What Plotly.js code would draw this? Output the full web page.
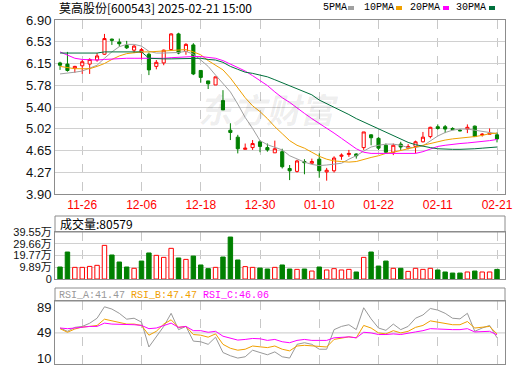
<!DOCTYPE html>
<html><head><meta charset="utf-8">
<script src="https://cdn.plot.ly/plotly-3.0.1.min.js"></script>
<style>html,body{margin:0;padding:0;background:#fff;}#chart{width:520px;height:365px;}</style>
</head><body><div id="chart"></div>
<script>
// ---- data ----
const dates = ["2024-11-21","2024-11-22","2024-11-25","2024-11-26","2024-11-27","2024-11-28","2024-11-29","2024-12-02","2024-12-03","2024-12-04","2024-12-05","2024-12-06","2024-12-09","2024-12-10","2024-12-11","2024-12-12","2024-12-13","2024-12-16","2024-12-17","2024-12-18","2024-12-19","2024-12-20","2024-12-23","2024-12-24","2024-12-25","2024-12-26","2024-12-27","2024-12-30","2024-12-31","2025-01-02","2025-01-03","2025-01-06","2025-01-07","2025-01-08","2025-01-09","2025-01-10","2025-01-13","2025-01-14","2025-01-15","2025-01-16","2025-01-17","2025-01-20","2025-01-21","2025-01-22","2025-01-23","2025-01-24","2025-01-27","2025-02-05","2025-02-06","2025-02-07","2025-02-10","2025-02-11","2025-02-12","2025-02-13","2025-02-14","2025-02-17","2025-02-18","2025-02-19","2025-02-20","2025-02-21"];
const openP  = [6.16,6.14,6.07,6.11,6.14,6.21,6.31,6.57,6.52,6.46,6.38,6.34,6.31,6.10,6.16,6.39,6.66,6.36,6.47,6.03,5.85,5.78,5.51,5.00,4.88,4.67,4.70,4.80,4.70,4.61,4.63,4.34,4.29,4.46,4.43,4.50,4.28,4.30,4.55,4.58,4.59,4.70,4.92,4.86,4.74,4.62,4.76,4.69,4.72,4.80,4.89,5.06,5.06,5.03,5.00,5.02,5.07,4.92,4.93,4.92];
const highP  = [6.18,6.35,6.11,6.21,6.24,6.33,6.66,6.58,6.58,6.54,6.47,6.42,6.34,6.21,6.39,6.67,6.68,6.50,6.50,6.03,5.85,5.92,5.69,5.12,4.92,4.77,4.83,4.83,4.77,4.82,4.68,4.40,4.49,4.50,4.51,4.60,4.35,4.55,4.60,4.66,4.60,4.97,4.93,4.88,4.77,4.77,4.80,4.76,4.82,4.97,5.06,5.10,5.09,5.05,5.02,5.10,5.08,4.95,5.03,4.96];
const lowP   = [6.04,6.01,5.99,5.97,5.97,6.18,6.30,6.47,6.44,6.40,6.33,6.22,5.95,6.05,6.12,6.38,6.31,6.30,5.95,5.82,5.71,5.78,5.35,4.83,4.60,4.67,4.66,4.62,4.63,4.61,4.34,4.14,4.27,4.24,4.42,4.18,4.13,4.27,4.49,4.54,4.51,4.66,4.74,4.66,4.60,4.57,4.66,4.67,4.60,4.79,4.86,5.01,4.95,5.00,4.98,4.95,4.89,4.89,4.93,4.79];
const closeP = [6.12,6.03,6.10,6.18,6.22,6.28,6.58,6.55,6.49,6.42,6.45,6.39,6.04,6.17,6.38,6.66,6.33,6.48,5.97,5.91,5.80,5.92,5.35,4.96,4.68,4.69,4.77,4.72,4.66,4.68,4.37,4.30,4.47,4.44,4.46,4.30,4.31,4.52,4.57,4.60,4.56,4.97,4.87,4.69,4.62,4.74,4.71,4.72,4.80,4.88,5.05,5.03,5.02,5.01,4.99,5.05,4.89,4.93,4.95,4.85];
const ma5  = [5.97,5.98,6.00,6.02,6.07,6.12,6.24,6.35,6.44,6.48,6.48,6.45,6.36,6.33,6.33,6.33,6.34,6.36,6.31,6.21,6.10,5.95,5.80,5.66,5.45,5.22,5.03,4.82,4.75,4.70,4.66,4.56,4.50,4.45,4.41,4.39,4.40,4.41,4.43,4.50,4.56,4.64,4.71,4.74,4.76,4.76,4.74,4.70,4.70,4.73,4.81,4.90,4.96,5.00,5.02,5.02,5.00,4.98,4.96,4.94];
const ma10 = [6.10,6.08,6.06,6.06,6.06,6.10,6.15,6.22,6.28,6.32,6.34,6.35,6.35,6.36,6.36,6.37,6.38,6.39,6.35,6.30,6.20,6.12,6.04,5.90,5.72,5.56,5.42,5.32,5.20,5.06,4.94,4.82,4.74,4.69,4.62,4.55,4.50,4.47,4.46,4.45,4.46,4.50,4.53,4.56,4.60,4.62,4.65,4.69,4.72,4.75,4.78,4.80,4.83,4.85,4.86,4.88,4.89,4.91,4.94,4.95];
const ma20 = [6.35,6.29,6.24,6.22,6.21,6.21,6.22,6.23,6.24,6.24,6.24,6.24,6.23,6.23,6.24,6.25,6.26,6.27,6.27,6.27,6.26,6.24,6.20,6.14,6.08,6.02,5.94,5.85,5.77,5.66,5.56,5.48,5.38,5.29,5.20,5.12,5.03,4.95,4.86,4.77,4.68,4.62,4.60,4.60,4.60,4.60,4.60,4.60,4.60,4.63,4.68,4.72,4.74,4.76,4.77,4.78,4.79,4.80,4.82,4.84];
const ma30 = [6.33,6.33,6.33,6.33,6.33,6.33,6.35,6.35,6.35,6.35,6.35,6.35,6.24,6.23,6.23,6.23,6.23,6.24,6.24,6.24,6.22,6.21,6.17,6.10,6.05,6.00,5.98,5.95,5.92,5.87,5.82,5.77,5.72,5.67,5.61,5.52,5.46,5.40,5.34,5.27,5.20,5.14,5.08,5.02,4.96,4.90,4.84,4.79,4.75,4.72,4.70,4.68,4.67,4.67,4.67,4.67,4.68,4.69,4.70,4.71];
const volume = [101000,227000,98000,98000,106000,115000,283000,202000,143000,101000,90000,151000,219000,199000,182000,258000,177000,165000,193000,118000,87000,98000,185000,353000,160000,104000,98000,92000,84000,98000,118000,84000,81000,84000,67000,101000,76000,87000,76000,81000,59000,182000,227000,109000,151000,90000,90000,64000,90000,81000,90000,76000,59000,50000,50000,59000,67000,59000,59000,80579];
const rsiA = [56.6,51.5,57.6,59.1,64.0,71.8,89.5,86.0,79.4,70.3,71.8,65.7,27.2,43.9,59.1,79.4,54.1,59.1,36.3,35.3,31.3,42.4,18.6,13.6,10.0,12.0,22.2,18.6,15.1,19.6,12.0,10.0,31.3,33.8,31.3,23.7,23.7,54.1,59.1,61.7,54.1,88.0,70.8,56.6,53.0,62.7,54.1,59.1,71.8,76.8,86.9,84.4,79.4,71.8,70.8,79.4,51.5,56.6,60.6,41.47];
const rsiB = [55.6,50.0,55.1,58.1,59.1,60.6,70.3,67.7,65.7,62.7,62.7,60.6,45.5,51.5,62.7,69.3,57.6,59.1,46.5,45.5,42.4,47.5,31.3,25.2,22.2,23.7,28.7,27.7,26.2,28.7,23.7,21.2,28.7,29.8,28.7,27.2,27.2,38.9,41.4,42.9,41.4,60.6,56.6,49.0,47.5,52.5,49.0,51.5,57.6,60.6,67.7,65.7,62.7,61.7,61.7,66.7,56.6,57.6,59.1,47.47];
const rsiC = [56.6,55.6,56.6,58.1,59.1,59.1,64.2,62.7,62.7,61.7,61.7,60.6,55.6,56.6,60.6,64.2,57.6,59.1,52.5,52.5,50.0,51.5,43.9,40.4,37.9,38.9,40.4,39.9,37.4,38.9,35.3,33.8,37.4,38.9,37.4,37.4,37.4,41.4,42.4,42.9,41.4,50.0,49.0,46.5,46.5,47.5,46.5,48.0,50.5,52.5,55.6,55.1,54.1,54.1,54.1,55.6,50.5,51.5,51.5,46.06];
const tickDates = ["2024-11-26","2024-12-06","2024-12-18","2024-12-30","2025-01-10","2025-01-22","2025-02-11","2025-02-21"];
const priceTicks = [3.90,4.275,4.65,5.025,5.40,5.775,6.15,6.525,6.90];
const priceTickText = ["3.90","4.27","4.65","5.02","5.40","5.78","6.15","6.53","6.90"];
const volTicks = [0,98875,197750,296625,395500];
const volTickText = ["0","9.89万","19.77万","29.66万","39.55万"];
const rsiTicks = [10,49,89];

// ---- styles ----
const RED = '#ff0000', GREEN = '#008000';
const C5 = '#a0a0a0', C10 = '#f0a000', C20 = '#ff00ff', C30 = '#00703c';
const FRAME = '#8c8c8c';

const volColors = closeP.map((c,i)=> i===0 ? (c>=openP[i]) : (c>=closeP[i-1]));

const traces = [
  {type:'candlestick', x:dates, open:openP, high:highP, low:lowP, close:closeP, xaxis:'x', yaxis:'y',
   increasing:{line:{color:RED,width:1}, fillcolor:'#ffffff'},
   decreasing:{line:{color:GREEN,width:1}, fillcolor:GREEN}, whiskerwidth:0, hoverinfo:'skip'},
  {type:'scatter', mode:'lines', x:dates, y:ma5, line:{color:C5,width:1}, xaxis:'x', yaxis:'y'},
  {type:'scatter', mode:'lines', x:dates, y:ma10, line:{color:C10,width:1}, xaxis:'x', yaxis:'y'},
  {type:'scatter', mode:'lines', x:dates, y:ma20, line:{color:C20,width:1}, xaxis:'x', yaxis:'y'},
  {type:'scatter', mode:'lines', x:dates, y:ma30, line:{color:C30,width:1}, xaxis:'x', yaxis:'y'},
  {type:'bar', x:dates, y:volume, xaxis:'x2', yaxis:'y2',
   marker:{color:volColors.map(u=>u?'#ffffff':GREEN), line:{color:volColors.map(u=>u?RED:GREEN), width:1}}},
  {type:'scatter', mode:'lines', x:dates, y:rsiA, line:{color:'#999999',width:1}, xaxis:'x3', yaxis:'y3'},
  {type:'scatter', mode:'lines', x:dates, y:rsiB, line:{color:C10,width:1}, xaxis:'x3', yaxis:'y3'},
  {type:'scatter', mode:'lines', x:dates, y:rsiC, line:{color:C20,width:1}, xaxis:'x3', yaxis:'y3'}
];

const H = 344; // plot height in px (t=20,b=1)
const py = y => (364 - y) / H;   // pixel y -> paper
const px = x => (x - 55) / 450;  // pixel x -> paper

const xBase = {type:'category', range:[-0.68, 60.08], tickvals:tickDates, showgrid:true, gridcolor:'#c8c8c8', griddash:'dash', gridwidth:1,
  showline:true, mirror:true, linecolor:FRAME, linewidth:1, ticks:'', zeroline:false, fixedrange:true};
const yBase = {showline:true, mirror:true, linecolor:FRAME, linewidth:1, ticks:'', zeroline:false, gridcolor:'#d0d0d0', gridwidth:1,
  ticklabeloverflow:'allow', tickfont:{family:'Liberation Sans, Arial, sans-serif', size:13, color:'#111'}, fixedrange:true};

const layout = {
  width:520, height:365, margin:{l:55, r:15, t:20, b:1},
  paper_bgcolor:'#ffffff', plot_bgcolor:'#ffffff', showlegend:false,
  boxgap:0.4, bargap:0.4, hovermode:false,
  font:{family:'Liberation Sans, Arial, sans-serif', size:12, color:'#000'},
  xaxis: Object.assign({}, xBase, {anchor:'y', ticktext:tickDates.map(d=>d.slice(5)), tickfont:{family:'Liberation Sans, Arial, sans-serif', size:12, color:RED}, rangeslider:{visible:false}}),
  yaxis: Object.assign({}, yBase, {domain:[py(194), 1], range:[3.90, 6.90], tickvals:priceTicks, ticktext:priceTickText}),
  xaxis2: Object.assign({}, xBase, {anchor:'y2', matches:'x', showticklabels:false}),
  yaxis2: Object.assign({}, yBase, {domain:[py(279), py(232)], range:[0, 395500], tickvals:volTicks, ticktext:volTickText, tickfont:{family:'Liberation Sans, Arial, "Noto Sans CJK SC", sans-serif', size:11, color:'#111'}}),
  xaxis3: Object.assign({}, xBase, {anchor:'y3', matches:'x', showticklabels:false}),
  yaxis3: Object.assign({}, yBase, {domain:[0, py(301)], range:[0.8, 98.5], tickvals:rsiTicks, showgrid:false}),
  shapes:[
    {type:'rect', xref:'paper', yref:'paper', x0:0, x1:1, y0:py(232), y1:py(216), line:{color:FRAME, width:1}},
    {type:'rect', xref:'paper', yref:'paper', x0:0, x1:1, y0:py(301), y1:py(288), line:{color:FRAME, width:1}},
    {type:'line', xref:'paper', yref:'y3', x0:0, x1:1, y0:49, y1:49, line:{color:'#c8c8c8', width:1}, layer:'below'}
  ],
  annotations:[
    {xref:'paper', yref:'paper', x:px(268), y:py(108), xanchor:'center', yanchor:'middle', showarrow:false,
     text:'<b><i>东方财富</i></b>', font:{family:'"Noto Sans CJK SC", sans-serif', size:34, color:'rgba(0,0,0,0.07)'}},
    {xref:'paper', yref:'paper', x:px(57), y:py(8), xanchor:'left', yanchor:'middle', showarrow:false,
     text:'莫高股份[600543] 2025-02-21 15:00', font:{family:'"Noto Sans CJK SC", sans-serif', size:12, color:'#000'}},
    {xref:'paper', yref:'paper', x:px(58), y:py(224), xanchor:'left', yanchor:'middle', showarrow:false,
     text:'成交量:' + volume[volume.length-1], font:{family:'"Noto Sans CJK SC", sans-serif', size:12, color:'#000'}},
    {xref:'paper', yref:'paper', x:px(57), y:py(295), xanchor:'left', yanchor:'middle', showarrow:false,
     text:'<span style="color:#999999">RSI_A:' + rsiA[rsiA.length-1].toFixed(2) + '</span> <span style="color:'+C10+'">RSI_B:' + rsiB[rsiB.length-1].toFixed(2) + '</span> <span style="color:'+C20+'">RSI_C:' + rsiC[rsiC.length-1].toFixed(2) + '</span>',
     font:{family:'"Liberation Mono", monospace', size:10, color:'#999'}},
  ]
};

// legend labels top-right
const legendItems = [['5PMA', C5, 321, 348], ['10PMA', C10, 362, 396], ['20PMA', C20, 408, 443], ['30PMA', C30, 454, 489]];
legendItems.forEach(([t, c, tx, sx]) => {
  layout.annotations.push({xref:'paper', yref:'paper', x:px(tx), y:py(8), xanchor:'left', yanchor:'middle', showarrow:false,
    text:t, font:{family:'"Liberation Mono", monospace', size:10, color:'#000'}});
  layout.shapes.push({type:'rect', xref:'paper', yref:'paper', x0:px(sx), x1:px(sx+6), y0:py(10), y1:py(6), fillcolor:c, line:{width:0}});
});

Plotly.newPlot('chart', traces, layout, {staticPlot:true, displayModeBar:false});
</script></body></html>
